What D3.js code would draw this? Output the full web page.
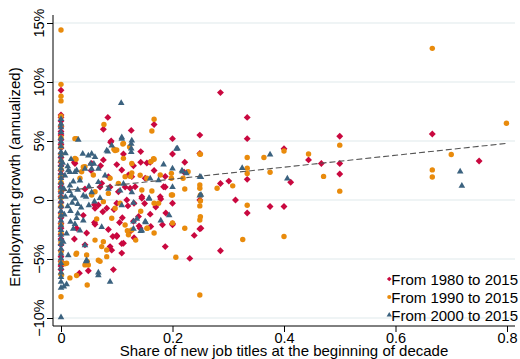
<!DOCTYPE html>
<html>
<head>
<meta charset="utf-8">
<script src="https://cdn.jsdelivr.net/npm/d3@7"></script>
<style>
  body { margin: 0; background: #fff; }
  svg { display: block; font-family: "Liberation Sans", Arial, sans-serif; }
</style>
</head>
<body>
<div id="chart"></div>
<script>
// series: [share of new job titles, employment growth in %]
const from1980 = [
  [0,9.3],[0,7.2],[0,7.0],[0,6.7],[0,6.2],[0,5.8],[0,5.5],[0,5.1],[0,4.7],[0,4.4],[0,3.9],[0,3.6],
  [0,3.2],[0,2.9],[0,2.5],[0,2.2],[0,1.9],[0,1.4],[0,1.1],[0,0.7],[0,0.3],[0,-0.2],[0,-0.6],[0,-1.1],
  [0,-1.5],[0,-2.0],[0,-2.4],[0,-2.9],[0,-3.3],[0,-3.8],[0,-4.3],[0,-4.8],[0,-5.2],[0,-5.6],[0,-5.9],
  [0.084,7.0],[0.076,6.0],[0.167,6.4],[0.126,5.9],[0.089,4.9],[0.2,5.2],[0.112,3.9],[0.143,4.1],
  [0.2,3.9],[0.222,3.2],[0.143,3.2],[0.16,3.2],[0.13,2.9],[0.071,2.9],[0.054,2.5],[0.167,2.5],
  [0.187,2.0],[0.187,1.1],[0.115,1.1],[0.103,0.7],[0.07,1.1],[0.088,1.1],[0.024,3.2],
  [0.286,9.1],[0.334,7.0],[0.334,5.2],[0.249,5.5],[0.249,3.95],[0.5,5.4],[0.666,5.6],[0.4,4.35],
  [0.444,3.4],[0.467,3.1],[0.5,3.1],[0.5,2.2],[0.334,1.75],[0.301,1.6],[0.286,1.4],[0.412,1.5],
  [0.75,3.3],[0.313,0.0],[0.249,0.0],[0.334,-1.1],[0.375,-0.55],[0.4,-0.55],[0.249,-2.45],[0.286,-4.3],
  [0.187,-3.95],[0.231,-4.95],[0.239,-3.0],[0.2,-2.0],[0.182,-2.1],[0.188,-1.1],[0.161,-2.25],
  [0.131,-3.2],[0.139,-1.4],[0.109,-3.7],[0.1,-3.0],[0.093,-3.1],[0.088,-3.95],[0.091,-4.25],
  [0.094,-5.9],[0.049,-6.0],[0.033,-6.2],[0.024,-3.3],[0.046,-2.8],[0.043,-3.8],
  [0.06,-1.9],[0.075,-1.0],[0.095,-0.8],[0.11,-1.5],[0.12,-0.5],[0.13,-1.8],[0.15,-0.3],[0.16,-1.2],
  [0.06,-0.4],[0.04,-1.3],[0.085,-2.5],[0.105,-1.9],[0.14,-2.2],[0.17,-0.6],
  [0.131,-0.28],[0.145,0.14],[0.179,0.08],[0.2,-0.28],[0.142,-2.4],[0.251,-2.4],[0.2,-2.1],
  [0.154,3.14],[0.221,2.35],[0.151,1.84],[0.184,1.13],[0.127,1.98],[0.145,0.28],[0.178,0.28],[0.133,1.13],
  [0.09,5.0],[0.076,3.4],[0.025,3.1],[0.1,3.0],[0.109,2.54],[0.085,1.98],[0.121,2.12],[0.055,3.1],
  [0.073,1.41],[0.124,0.99],[0.043,0.93],
  [0.067,-0.42],[0.061,-0.7],[0.082,-0.7],[0.1,-0.28],[0.118,0.0],[0.061,-2.06],[0.1,-3.1],
  [0.112,-3.67],[0.124,-2.68],[0.028,-2.4],[0.109,-4.5]
];

const from1990 = [
  [0,14.4],[0,9.8],[0,8.8],[0,8.4],[0,7.1],[0,6.3],[0,5.3],[0,4.5],[0,3.9],[0,3.3],[0,2.6],[0,2.0],
  [0,1.5],[0,0.8],[0,0.2],[0,-0.5],[0,-1.3],[0,-2.1],[0,-2.8],[0,-3.6],[0,-4.4],[0,-5.3],[0,-6.3],[0,-8.2],
  [0.025,5.2],[0.077,6.4],[0.167,6.85],[0.163,5.85],[0.111,4.75],[0.123,4.5],[0.097,4.2],[0.095,4.3],
  [0.25,3.87],[0.027,3.45],[0.167,3.45],[0.04,2.8],[0.228,2.4],[0.125,2.0],[0.142,2.1],[0.219,1.85],
  [0.249,1.27],[0.249,1.0],[0.222,0.93],[0.163,0.76],[0.145,0.85],[0.2,0.42],
  [0.666,12.85],[0.799,6.5],[0.5,4.65],[0.249,3.9],[0.334,3.6],[0.364,3.6],[0.4,4.15],[0.444,3.9],
  [0.7,3.85],[0.334,2.7],[0.334,2.25],[0.375,2.35],[0.471,2.0],[0.666,2.55],[0.666,1.95],[0.308,1.2],
  [0.28,1.0],[0.5,0.75],[0.334,-0.45],[0.326,-3.35],[0.4,-3.1],[0.249,-0.5],[0.249,-1.7],[0.249,-8.05],
  [0.222,-2.4],[0.206,-4.85],[0.2,-1.95],[0.167,-2.8],[0.155,-2.4],[0.134,-3.4],[0.143,-0.95],
  [0.121,-2.95],[0.119,-2.6],[0.082,-4.8],[0.067,-5.1],[0.07,-5.2],[0.073,-3.95],[0.061,-3.4],
  [0.028,-6.4],[0.016,-6.6],[0.047,-7.2],[0.043,-5.5],[0.047,-5.2],[0.027,-4.6],[0.007,-5.4],[0.001,-6.35],
  [0.198,0.42],[0.167,-0.28],[0.175,-0.28],[0.25,-0.08],[0.25,-1.41],[0.154,-2.4],
  [0.166,3.5],[0.161,3.25],[0.198,2.26],[0.198,1.84],[0.25,0.4],[0.154,1.84],[0.178,2.12],[0.127,2.3],
  [0.028,5.2],[0.1,4.24],[0.112,4.8],[0.112,3.53],[0.025,3.53],[0.043,2.82],[0.037,2.4],[0.058,2.12],
  [0.034,1.84],[0.088,1.84],[0.103,1.41],[0.115,1.98],[0.061,0.7],[0.085,0.56],[0.127,3.1],
  [0.055,0.42],[0.076,-0.14],[0.097,-0.7],[0.106,-0.28],[0.091,-1.55],[0.064,-1.6],[0.115,-2.12],
  [0.127,-2.54],[0.076,-3.53],[0.082,-4.24],[0.046,-4.66],[0.028,-4.5],[0.01,-5.36],[0.049,-5.5]
];

const from2000 = [
  [0,6.9],[0,6.5],[0,6.2],[0,5.8],[0,5.3],[0,5.0],[0,4.6],[0,4.1],[0,3.8],[0,3.4],[0,3.0],[0,2.7],
  [0,2.3],[0,1.9],[0,1.5],[0,1.1],[0,0.7],[0,0.3],[0,-0.1],[0,-0.5],[0,-0.9],[0,-1.3],[0,-1.7],
  [0,-2.1],[0,-2.5],[0,-2.9],[0,-3.3],[0,-3.7],[0,-4.1],[0,-4.5],[0,-4.9],[0,-5.3],[0,-5.7],
  [0,-6.1],[0,-6.5],[0,-6.9],[0,-7.4],[0,-9.9],[0.005,-7.3],[0.01,-7.1],
  [0.108,8.25],[0.031,5.15],[0.109,5.35],[0.126,4.8],[0.126,4.4],[0.126,4.1],[0.084,4.15],[0.209,4.4],
  [0.039,3.95],[0.055,3.95],[0.184,3.05],[0.2,2.7],[0.053,3.1],[0.059,3.1],[0.218,2.45],[0.013,2.55],
  [0.028,2.55],[0.249,2.0],[0.16,1.85],[0.175,1.7],[0.2,1.13],[0.249,0.42],
  [0.375,3.9],[0.325,2.75],[0.406,1.85],[0.716,2.45],[0.719,1.25],
  [0.194,-1.25],[0.179,-1.7],[0.152,-1.85],[0.143,-2.6],[0.088,-6.9],[0.067,-6.1],[0.067,-6.35],
  [0.045,-5.15],[0.013,-4.65],
  [0.13,-0.2],[0.158,0.14],[0.13,-1.78],[0.136,-1.55],[0.151,-1.78],[0.145,-2.54],[0.13,-2.4],
  [0.025,0.14],[0.03,-0.3],[0.036,-0.6],[0.017,-0.9],[0.028,-1.5],[0.017,-1.8],[0.04,-1.7],
  [0.05,-0.4],[0.06,-0.1],[0.07,0.2],[0.109,-0.42],[0.022,-2.4],[0.073,-2.26],[0.034,-2.54],
  [0.043,-3.81],[0.046,-5.08],
  [0.109,5.22],[0.091,4.66],[0.049,3.81],[0.061,3.67],[0.082,4.24],[0.127,5.08],[0.016,2.4],[0.025,2.4],
  [0.043,2.68],[0.055,2.68],[0.067,2.68],[0.079,2.12],[0.034,1.69],[0.067,1.55],[0.085,0.99],[0.106,0.85],
  [0.055,0.7],[0.127,0.7],[0.016,1.27],[0.007,2.12],[0.019,0.42],[0.04,0.42],[0.112,1.41],
  [0.207,4.38],[0.217,2.54],[0.225,2.31],[0.251,1.98],[0.251,0.48],[0.158,0.2],
  [0.005,1.0],[0.008,0.3],[0.012,-0.5],[0.006,-1.2],[0.015,0.8],[0.02,-0.2],[0.022,1.6],[0.03,0.9],
  [0.045,0.3],[0.05,1.2],[0.012,2.9],[0.018,3.5],[0.008,4.0],[0.03,-1.1],[0.025,-2.0],[0.01,-2.8],
  [0.004,-3.5],[0.003,3.2]
];

// dashed fitted line, endpoints
const fitLine = [[0, 0.76], [0.8, 4.8]];

const xTicks = [0, 0.2, 0.4, 0.6, 0.8];
const yTicks = [-10, -5, 0, 5, 10, 15];
const yTickLabels = ["\u221210%", "\u22125%", "0", "5%", "10%", "15%"];
const seriesNames = ["From 1980 to 2015", "From 1990 to 2015", "From 2000 to 2015"];

const width = 520, height = 359;
const red = "#c9083f", orange = "#e98b0c", blue = "#3b627f";

const svg = d3.select("#chart").append("svg")
  .attr("width", width)
  .attr("height", height);

const x = d3.scaleLinear().domain([0, 0.8]).range([61, 507]);
const y = d3.scaleLinear().domain([-10, 15]).range([318, 23]);

const plotLeft = 53, plotRight = 515, plotTop = 15, plotBottom = 326;

// gridlines
svg.append("g")
  .selectAll("line")
  .data(yTicks)
  .enter().append("line")
  .attr("x1", plotLeft).attr("x2", plotRight)
  .attr("y1", d => y(d)).attr("y2", d => y(d))
  .attr("stroke", "#eaf1f2")
  .attr("stroke-width", 1.3);

// y axis
const yAxis = svg.append("g")
  .attr("transform", `translate(${plotLeft},0)`)
  .call(d3.axisLeft(y).tickValues(yTicks).tickSize(6).tickFormat(""));
yAxis.select(".domain").attr("d", `M0,${plotTop}V${plotBottom}`).attr("stroke", "#000");
yAxis.selectAll(".tick line").attr("stroke", "#000");

svg.append("g")
  .selectAll("text")
  .data(yTicks)
  .enter().append("text")
  .attr("transform", (d) => `translate(43.5,${y(d)}) rotate(-90)`)
  .attr("text-anchor", "middle")
  .attr("font-size", 14.5)
  .attr("fill", "#000")
  .text((d, i) => yTickLabels[i]);

// x axis
const xAxis = svg.append("g")
  .attr("transform", `translate(0,${plotBottom})`)
  .call(d3.axisBottom(x).tickValues(xTicks).tickSize(6).tickFormat(d => d === 0 ? "0" : d3.format(".1f")(d)));
xAxis.select(".domain").attr("d", `M${plotLeft},0H${plotRight}`).attr("stroke", "#000");
xAxis.selectAll(".tick line").attr("stroke", "#000");
xAxis.selectAll(".tick text")
  .attr("font-size", 14.5)
  .attr("font-family", "Liberation Sans, Arial, sans-serif")
  .attr("fill", "#000")
  .attr("y", 16.5)
  .attr("dy", null);

// axis titles
svg.append("text")
  .attr("transform", `translate(20,177) rotate(-90)`)
  .attr("text-anchor", "middle")
  .attr("font-size", 15)
  .text("Employment growth (annualized)");

svg.append("text")
  .attr("x", 284)
  .attr("y", 355.5)
  .attr("text-anchor", "middle")
  .attr("font-size", 15)
  .text("Share of new job titles at the beginning of decade");

// markers
const diamond = d3.symbol().type(d3.symbolSquare).size(24);
const circle = d3.symbol().type(d3.symbolCircle).size(23);
const triangle = d3.symbol().type(d3.symbolTriangle).size(19);

svg.append("g")
  .selectAll("path")
  .data(from1980)
  .enter().append("path")
  .attr("d", diamond)
  .attr("transform", d => `translate(${x(d[0])},${y(d[1])}) rotate(45)`)
  .attr("fill", red);

svg.append("g")
  .selectAll("path")
  .data(from1990)
  .enter().append("path")
  .attr("d", circle)
  .attr("transform", d => `translate(${x(d[0])},${y(d[1])})`)
  .attr("fill", orange);

svg.append("g")
  .selectAll("path")
  .data(from2000)
  .enter().append("path")
  .attr("d", triangle)
  .attr("transform", d => `translate(${x(d[0])},${y(d[1]) + 0.5})`)
  .attr("fill", blue);

// fitted line
svg.append("path")
  .datum(fitLine)
  .attr("d", d3.line().x(d => x(d[0])).y(d => y(d[1])))
  .attr("fill", "none")
  .attr("stroke", "#555")
  .attr("stroke-width", 1.1)
  .attr("stroke-dasharray", "6,3");

// legend
const legendRows = [
  { name: seriesNames[0], shape: d3.symbolSquare, size: 11, rot: 45, color: red },
  { name: seriesNames[1], shape: d3.symbolCircle, size: 13, rot: 0, color: orange },
  { name: seriesNames[2], shape: d3.symbolTriangle, size: 12, rot: 0, color: blue }
];
const legendY = [279, 297, 315];
const legend = svg.append("g");
legendRows.forEach((r, i) => {
  const t = legend.append("text")
    .attr("x", 518)
    .attr("y", legendY[i] + 5.5)
    .attr("text-anchor", "end")
    .attr("font-size", 15)
    .text(r.name);
  const w = t.node().getComputedTextLength();
  legend.append("path")
    .attr("d", d3.symbol().type(r.shape).size(r.size))
    .attr("transform", `translate(${518 - w - 2},${legendY[i]}) rotate(${r.rot})`)
    .attr("fill", r.color);
});
</script>
</body>
</html>
